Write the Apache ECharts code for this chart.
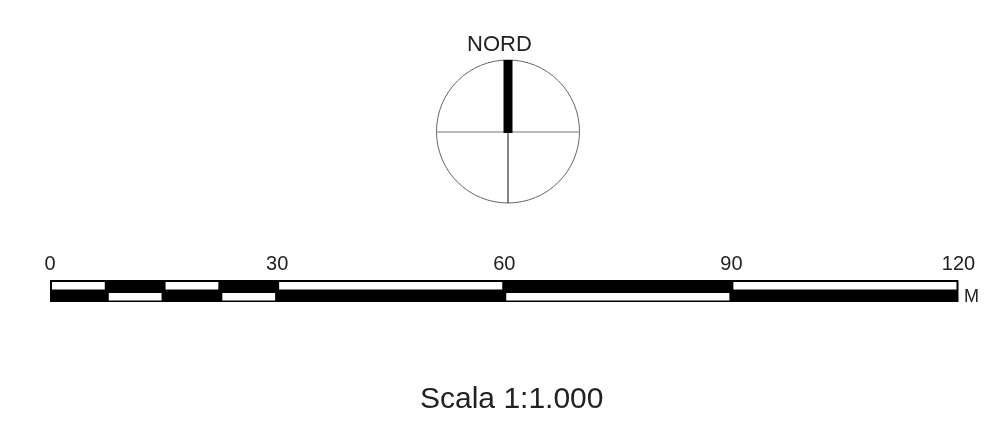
<!DOCTYPE html>
<html>
<head>
<meta charset="utf-8">
<script src="https://cdn.jsdelivr.net/npm/echarts@6/dist/echarts.min.js"></script>
<style>html,body{margin:0;padding:0;background:#fff}#c{width:991px;height:446px}</style>
</head>
<body>
<div id="c"></div>
<script>
// Scale bar data (metres)
const scaleTicks = [0, 30, 60, 90, 120];
const scaleMax = 120;
const topWhite = [[0, 7.5], [15, 22.5], [30, 60], [90, 120]];
const bottomWhite = [[7.5, 15], [22.5, 30], [60, 90]];
const unitLabel = 'M';
const scaleTitle = 'Scala 1:1.000';
const northLabel = 'NORD';

const FONT = '"Liberation Sans", Arial, Helvetica, sans-serif';
const chart = echarts.init(document.getElementById('c'), null, {renderer: 'canvas'});

const whiteData = topWhite.map(s => [s[0], s[1], 1]).concat(bottomWhite.map(s => [s[0], s[1], 0]));

chart.setOption({
  animation: false,
  grid: [
    {left: 50, right: 32.5, top: 280, height: 22},
    {left: 436.5, top: 60, width: 143, height: 143}
  ],
  xAxis: [
    {
      gridIndex: 0, type: 'value', min: scaleTicks[0], max: scaleMax, interval: scaleTicks[1] - scaleTicks[0], position: 'top',
      axisLine: {show: false}, axisTick: {show: false}, splitLine: {show: false},
      axisLabel: {margin: 6, fontSize: 20, color: '#222', fontFamily: FONT}
    },
    {gridIndex: 1, type: 'value', min: -1, max: 1, show: false}
  ],
  yAxis: [
    {gridIndex: 0, type: 'value', min: 0, max: 2, show: false},
    {gridIndex: 1, type: 'value', min: -1, max: 1, show: false}
  ],
  series: [
    {
      type: 'custom', xAxisIndex: 0, yAxisIndex: 0, silent: true,
      data: [[0, scaleMax]],
      renderItem: function (params, api) {
        const p0 = api.coord([api.value(0), 2]);
        const p1 = api.coord([api.value(1), 0]);
        return {type: 'rect', shape: {x: p0[0], y: p0[1], width: p1[0] - p0[0], height: p1[1] - p0[1]}, style: {fill: '#000'}};
      }
    },
    {
      type: 'custom', xAxisIndex: 0, yAxisIndex: 0, silent: true,
      data: whiteData,
      renderItem: function (params, api) {
        const row = api.value(2);
        const p0 = api.coord([api.value(0), row + 1]);
        const p1 = api.coord([api.value(1), row]);
        const inset = 2;
        return {type: 'rect', shape: {x: p0[0] + inset, y: p0[1] + inset, width: p1[0] - p0[0] - 2 * inset, height: p1[1] - p0[1] - 2 * inset + 0.5}, style: {fill: '#fff'}};
      }
    },
    {
      type: 'custom', xAxisIndex: 1, yAxisIndex: 1, silent: true,
      data: [[0, 0, 1]],
      renderItem: function (params, api) {
        const c = api.coord([api.value(0), api.value(1)]);
        const r = api.size([api.value(2), 0])[0];
        const left = api.coord([-1, 0]), right = api.coord([1, 0]);
        const top = api.coord([0, 1]), bottom = api.coord([0, -1]);
        return {
          type: 'group',
          children: [
            {type: 'circle', shape: {cx: c[0], cy: c[1], r: r}, style: {fill: '#fff', stroke: '#666', lineWidth: 1}},
            {type: 'line', shape: {x1: left[0], y1: c[1] + 0.5, x2: right[0], y2: c[1] + 0.5}, style: {stroke: '#777', lineWidth: 1}},
            {type: 'line', shape: {x1: c[0], y1: c[1], x2: bottom[0], y2: bottom[1]}, style: {stroke: '#333', lineWidth: 1.2}},
            {type: 'rect', shape: {x: c[0] - 4.5, y: top[1], width: 9, height: c[1] - top[1] + 1.5}, style: {fill: '#000'}}
          ]
        };
      }
    }
  ],
  graphic: [
    {type: 'text', left: 467, top: 34, style: {text: northLabel, fontSize: 22, fill: '#222', fontFamily: FONT}},
    {type: 'text', left: 964, top: 288, style: {text: unitLabel, fontSize: 18, fill: '#222', fontFamily: FONT}},
    {type: 'text', left: 420, top: 385, style: {text: scaleTitle, fontSize: 30, fill: '#222', fontFamily: FONT}}
  ]
});
</script>
</body>
</html>
